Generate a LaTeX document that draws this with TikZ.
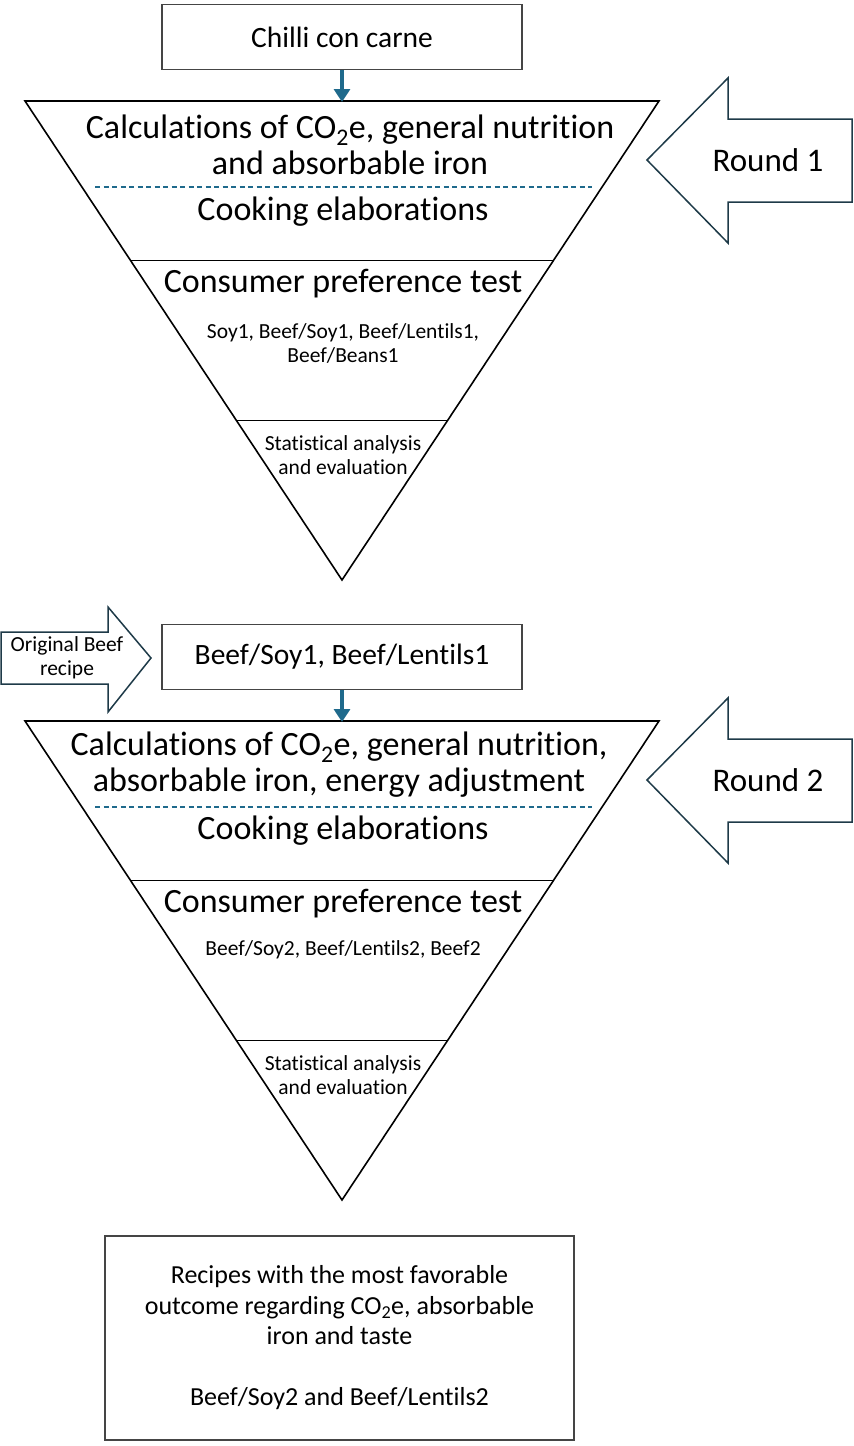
\documentclass[tikz,border=0pt]{standalone}
\usepackage{fontspec}
\setmainfont[RawFeature={-liga;-clig;-calt;-dlig}]{Carlito}
\usepackage{xcolor}
\usetikzlibrary{calc,arrows.meta}
\definecolor{flowblue}{HTML}{1F6A8C}
\definecolor{edgegray}{HTML}{454545}
\definecolor{roundline}{HTML}{1E3A48}

\tikzset{
  stagebox/.style={draw=edgegray, line width=1.5pt, minimum width=360pt, minimum height=65pt,
    font=\fontsize{29.5}{32}\selectfont},
  pyramid/.style={draw=black, line width=1.6pt, line join=miter},
  sepline/.style={draw=flowblue, line width=1.3pt, dash pattern=on 5pt off 3.5pt},
  bigtext/.style={font=\fontsize{34}{36}\selectfont, align=center},
  smalltext/.style={font=\fontsize{21.5}{24}\selectfont, align=center},
  feed/.style={draw=flowblue, line width=4pt, -{Triangle[length=13pt,width=16pt]}, shorten >=-1pt},
  roundarrow/.style={draw=roundline, line width=1.5pt, line join=miter},
  roundtext/.style={font=\fontsize{33}{36}\selectfont},
  finalbox/.style={draw=edgegray, line width=1.5pt, minimum width=469pt, minimum height=204pt,
    align=center, font=\fontsize{26}{30.5}\selectfont}
}

\begin{document}
\begin{tikzpicture}[x=1pt,y=-1pt]
\useasboundingbox (0,0) rectangle (854,1446);

\node[stagebox] (chilli) at (342,37) {Chilli con carne};
\coordinate (leftA) at (25,101);
\coordinate (rightA) at (659,101);
\coordinate (apexA) at (342,580);
\draw[pyramid] (leftA) -- (rightA) -- (apexA) -- cycle;
\draw[pyramid] ($(leftA)!1/3!(apexA)$) -- ($(rightA)!1/3!(apexA)$);
\draw[pyramid] ($(leftA)!2/3!(apexA)$) -- ($(rightA)!2/3!(apexA)$);
\draw[sepline] (95,187) -- (592,187);
\draw[feed] (chilli.south) -- (chilli.south |- leftA);
\node[bigtext] (calcA) at (350,145) {Calculations of CO\textsubscript{2}e, general nutrition\\and absorbable iron};
\node[bigtext] (cookA) at (343,212) {Cooking elaborations};
\node[bigtext] (prefA) at (343,284) {Consumer preference test};
\node[smalltext] (listA) at (343,343) {Soy1, Beef/Soy1, Beef/Lentils1,\\Beef/Beans1};
\node[smalltext] (statA) at (343,455) {Statistical analysis\\and evaluation};
\draw[roundarrow] (647,160) -- (728,78) -- (728,119) -- (852,119) -- (852,202) -- (728,202) -- (728,243) -- cycle;
\node[roundtext] (roundA) at (768,160) {Round 1};

\draw[roundarrow] (1,632) -- (108,632) -- (108,607) -- (151,658) -- (108,712) -- (108,684) -- (1,684) -- cycle;
\node[smalltext] (origin) at (67,658) {Original Beef\\recipe};
\node[stagebox] (mixes) at (342,657) {Beef/Soy1, Beef/Lentils1};
\coordinate (leftB) at (25,721);
\coordinate (rightB) at (659,721);
\coordinate (apexB) at (342,1200);
\draw[pyramid] (leftB) -- (rightB) -- (apexB) -- cycle;
\draw[pyramid] ($(leftB)!1/3!(apexB)$) -- ($(rightB)!1/3!(apexB)$);
\draw[pyramid] ($(leftB)!2/3!(apexB)$) -- ($(rightB)!2/3!(apexB)$);
\draw[sepline] (95,807) -- (592,807);
\draw[feed] (mixes.south) -- (mixes.south |- leftB);
\node[bigtext] (calcB) at (339,765) {Calculations of CO\textsubscript{2}e, general nutrition,\\absorbable iron, energy adjustment};
\node[bigtext] (cookB) at (343,831) {Cooking elaborations};
\node[bigtext] (prefB) at (343,904) {Consumer preference test};
\node[smalltext] (listB) at (343,950) {Beef/Soy2, Beef/Lentils2, Beef2};
\node[smalltext] (statB) at (343,1075) {Statistical analysis\\and evaluation};
\draw[roundarrow] (647,780) -- (728,698) -- (728,739) -- (852,739) -- (852,822) -- (728,822) -- (728,863) -- cycle;
\node[roundtext] (roundB) at (768,780) {Round 2};

\node[finalbox] (result) at (339.5,1338) {Recipes with the most favorable\\outcome regarding CO\textsubscript{2}e, absorbable\\iron and taste\\[30.5pt]Beef/Soy2 and Beef/Lentils2};
\end{tikzpicture}
\end{document}
